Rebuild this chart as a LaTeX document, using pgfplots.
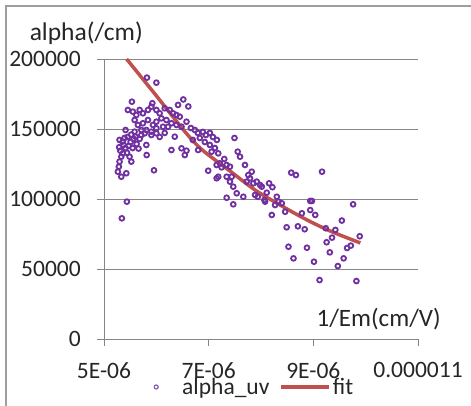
\documentclass[border=0pt]{standalone}
\usepackage{pgfplots}
\pgfplotsset{compat=1.18}
\usepackage{pgfplotstable}
\usepackage{fontspec}
\setmainfont{Carlito}
\definecolor{axgray}{RGB}{134,134,134}
\definecolor{dotpurple}{RGB}{112,48,160}
\definecolor{fitred}{RGB}{192,80,77}
\pgfplotstableread{
x y
5.297 142200
5.393 143600
5.412 149300
5.311 134500
5.361 132600
5.330 130200
5.297 126700
5.284 123100
5.265 119500
5.330 115900
5.426 118400
5.489 130200
5.522 126700
5.437 98100
5.341 86200
5.451 144300
5.508 140700
5.566 142900
5.470 137900
5.547 136400
5.623 139300
5.681 142900
5.374 138600
5.412 136400
5.456 163600
5.533 169500
5.821 186700
6.001 183100
5.924 168400
6.415 167200
6.515 171100
6.611 166100
5.552 162400
5.618 160000
5.681 163600
5.744 161200
5.840 163600
5.905 165900
6.001 163600
6.064 161200
6.160 164800
6.256 163600
6.320 161200
6.385 160000
6.448 158800
5.585 156400
5.648 152900
5.744 154100
5.840 156400
5.936 152900
6.001 155200
6.097 157600
6.193 156400
6.289 154100
6.385 152900
6.481 151600
5.585 148100
5.713 149300
5.809 149300
5.905 148100
6.001 150500
6.128 151600
6.224 151600
5.713 145700
5.777 146900
5.905 145700
6.001 146900
5.809 138600
5.815 131400
5.955 120500
6.289 135000
6.481 136200
6.544 131400
6.576 134500
6.352 144500
6.160 147200
6.064 144300
6.576 155200
6.659 150700
6.736 149300
6.793 147200
6.889 147900
6.947 145700
7.023 147200
7.081 144300
7.157 142200
6.831 143600
6.697 142200
6.927 140700
7.023 138600
7.119 136400
7.493 143600
7.555 133800
7.599 130200
7.298 128600
6.799 135000
7.056 133800
7.183 132600
7.215 125500
7.248 122600
7.344 115900
7.407 112400
7.470 108800
7.152 124300
7.183 115900
7.152 114800
7.344 124300
7.407 123100
7.440 115900
6.991 120200
7.536 104100
7.662 101600
7.344 100900
7.470 96200
7.887 102900
8.065 99300
7.694 124300
7.757 117100
7.823 119500
7.790 114800
7.727 112400
7.853 111200
7.919 112400
7.982 110000
8.015 108800
8.577 118800
8.667 117100
9.166 119500
8.155 111200
8.218 108400
8.110 104500
7.938 101600
8.078 98100
8.302 101600
8.333 98100
8.398 96900
8.269 95700
8.941 98600
8.973 98600
8.206 88600
8.461 90900
8.781 89800
9.036 88600
8.490 79800
8.705 80500
8.835 78400
9.760 96200
9.545 84600
9.421 77900
9.238 79100
9.357 72400
9.254 69100
9.887 73400
8.525 65900
8.878 65200
8.621 57600
9.012 55200
9.315 61900
9.645 65000
9.717 66700
9.579 57600
9.468 52100
9.119 42100
9.823 41400
8.941 92100
5.290 137000
5.355 141000
5.440 133000
5.520 146000
5.600 144500
5.660 136000
}\alphauv
\pgfplotstableread{
x y
5.432 200000
5.988 174300
6.544 148200
6.879 135000
7.407 120000
7.887 106400
8.366 95700
8.845 85700
9.324 77100
9.899 68600
}\fitdata
\pgfplotsset{
  scatlegend/.style={legend image code/.code={\path (0bp,0bp) (48bp,0bp); \draw[##1, mark size=2bp, mark options={draw=dotpurple!80, line width=1.2bp}] plot coordinates {(24bp,0bp)};}},
}
\begin{document}
\begin{tikzpicture}
\useasboundingbox (0,0) rectangle (471bp,406bp);
\draw[axgray!80, line width=1.5bp] (6bp,-10bp) -- (6bp,400bp) -- (480bp,400bp);
\begin{axis}[
  at={(104bp,67bp)}, anchor=south west,
  scale only axis, width=314bp, height=280bp,
  xmin=5, xmax=11, ymin=0, ymax=200000,
  axis lines=left, axis line style={-, draw=axgray, line width=0.9bp},
  xtick={5,7,9,11}, xticklabels={5E-06,7E-06,9E-06,0.000011},
  ytick={0,50000,100000,150000,200000},
  yticklabels={0,50000,100000,150000,200000},
  scaled y ticks=false,
  tick align=outside, major tick length=7bp,
  tick style={draw=axgray, line width=0.9bp},
  ymajorgrids, grid style={draw=axgray, line width=0.9bp},
  font=\fontsize{23.5bp}{28bp}\selectfont,
  ticklabel style={font=\fontsize{23.5bp}{28bp}\selectfont, text=black!85},
  yticklabel style={inner sep=0pt, xshift=-16bp},
  xticklabel style={inner sep=0pt, yshift=-16bp},
  xlabel={1/Em(cm/V)},
  xlabel style={at={(rel axis cs:1.073,0.0714)}, anchor=east, inner sep=0pt, text=black!85, font=\fontsize{25bp}{30bp}\selectfont},
  ylabel={alpha(/cm)},
  ylabel style={rotate=-90, at={(rel axis cs:-0.237,1.093)}, anchor=west, inner sep=0pt, text=black!85, font=\fontsize{25.5bp}{30bp}\selectfont},
  legend columns=2,
  legend style={at={(rel axis cs:0.0892,-0.1714)}, anchor=west, draw=none, fill=none,
    inner sep=0pt, font=\fontsize{23.5bp}{28bp}\selectfont,
    nodes={inner sep=2bp, text=black!85},
    /tikz/every even column/.append style={column sep=8bp}},
  legend image code/.code={\draw[mark repeat=2, mark phase=2, #1] plot coordinates {(0bp,0bp) (24bp,0bp) (48bp,0bp)};},
]
\addplot[draw=none, mark=o, mark size=2.4bp, mark options={draw=dotpurple, line width=1.8bp}, scatlegend] table[x=x,y=y] {\alphauv};
\addlegendentry{alpha\_uv}
\addplot[fitred, line width=3.5bp, smooth, no marks] table[x=x,y=y] {\fitdata};
\addlegendentry{fit}
\end{axis}
\end{tikzpicture}
\end{document}
